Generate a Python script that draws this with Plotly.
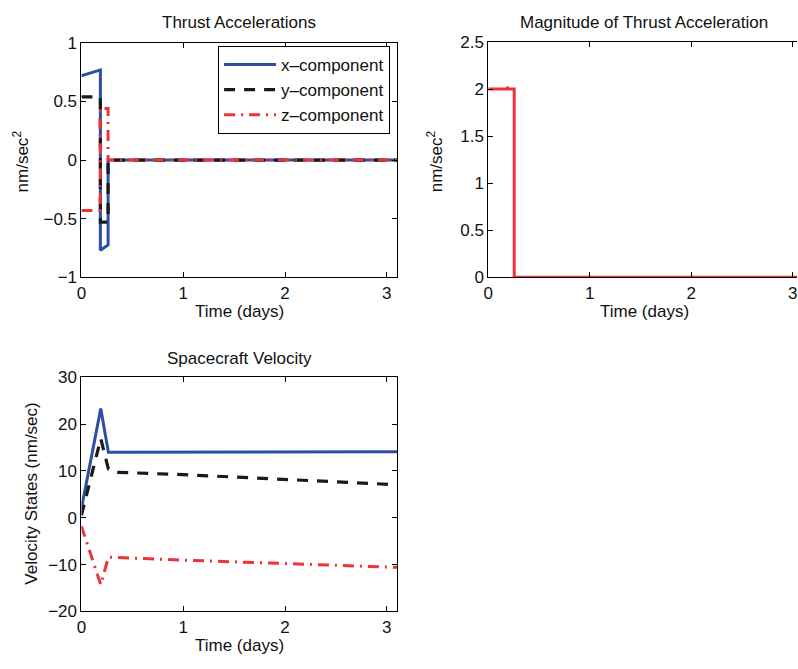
import plotly.graph_objects as go

W, H = 798, 669

# ---- data ----
t_acc = [0, 0.186, 0.186, 0.262, 0.262, 3.1]
acc_x = [0.72, 0.77, -0.77, -0.725, 0, 0]
acc_y = [0.54, 0.54, -0.53, -0.53, 0, 0]
acc_z = [-0.43, -0.43, 0.44, 0.44, 0, 0]

t_mag = [0, 0.18, 0.19, 0.2, 0.255, 0.255, 3.1]
mag = [2.0, 2.0, 2.012, 2.0, 2.0, 0.0, 0.0]

t_vel = [0, 0.19, 0.265, 0.35, 1, 1.5, 2, 2.5, 3, 3.1]
vel_x = [2.0, 23.3, 14.0, 14.0, 14.0, 14.05, 14.05, 14.1, 14.1, 14.1]
vel_y = [0.5, 16.9, 10.4, 9.7, 9.2, 8.7, 8.1, 7.6, 7.15, 7.05]
vel_z = [-1.8, -14.3, -8.4, -8.5, -9.05, -9.4, -9.75, -10.15, -10.5, -10.6]

names = ["x\u2013component", "y\u2013component", "z\u2013component"]
BLUE = "#2c4fa3"
BLACK = "#1a1a1a"
RED = "#ec3335"
styles = [dict(color=BLUE, width=3, dash="solid"),
          dict(color=BLACK, width=3.2, dash="11px,9px"),
          dict(color=RED, width=3, dash="11px,6px,2px,6px")]

FONT = "Liberation Sans, Arial, Helvetica, sans-serif"
FS = 17


def px(x):
    return x / W


def py(y):
    return 1 - y / H


fig = go.Figure()

for vals, nm, st in zip([acc_x, acc_y, acc_z], names, styles):
    fig.add_trace(go.Scatter(x=t_acc, y=vals, mode="lines", name=nm, line=st,
                             xaxis="x", yaxis="y", showlegend=True))

fig.add_trace(go.Scatter(x=t_mag, y=mag, mode="lines", line=dict(color=RED, width=3),
                         xaxis="x2", yaxis="y2", showlegend=False))

for vals, nm, st in zip([vel_x, vel_y, vel_z], names, styles):
    fig.add_trace(go.Scatter(x=t_vel, y=vals, mode="lines", name=nm, line=st,
                             xaxis="x3", yaxis="y3", showlegend=False))

axis_common = dict(showline=True, linecolor="black", linewidth=1, mirror="ticks",
                   ticks="inside", ticklen=5, tickcolor="black", showgrid=False,
                   zeroline=False, tickfont=dict(family=FONT, size=FS, color="#111"))

right_px = 804.0
x2_max = 3.1 * (W - 487) / (right_px - 487)

fig.update_layout(
    width=W, height=H,
    margin=dict(l=0, r=0, t=0, b=0),
    paper_bgcolor="white", plot_bgcolor="white",
    font=dict(family=FONT, size=FS, color="#111"),
    xaxis=dict(domain=[px(77), px(395)], range=[0, 3.1], tickvals=[0, 1, 2, 3], anchor="y", **axis_common),
    yaxis=dict(domain=[py(276), py(35)], range=[-1, 1], tickvals=[-1, -0.5, 0, 0.5, 1], anchor="x", **axis_common),
    xaxis2=dict(domain=[px(487), 1.0], range=[0, x2_max], tickvals=[0, 1, 2, 3], anchor="y2",
                ticklabeloverflow="allow", **axis_common),
    yaxis2=dict(domain=[py(276), py(34)], range=[0, 2.5], tickvals=[0, 0.5, 1, 1.5, 2, 2.5], anchor="x2",
                **{**axis_common, "mirror": False}),
    xaxis3=dict(domain=[px(77), px(395)], range=[0, 3.1], tickvals=[0, 1, 2, 3], anchor="y3", **axis_common),
    yaxis3=dict(domain=[py(620), py(379)], range=[-20, 30], tickvals=[-20, -10, 0, 10, 20, 30], anchor="x3", **axis_common),
    legend=dict(x=px(388), y=py(38), xanchor="right", yanchor="top",
                bordercolor="black", borderwidth=1, bgcolor="white", itemwidth=52,
                tracegroupgap=0,
                font=dict(family=FONT, size=FS, color="#111")),
)

ann = []


def add_text(text, x, y, angle=0, size=FS):
    ann.append(dict(text=text, x=px(x), y=py(y), xref="paper", yref="paper",
                    showarrow=False, xanchor="center", yanchor="middle",
                    textangle=angle, font=dict(family=FONT, size=size, color="#111")))


add_text("Thrust Accelerations", 236, 14)
add_text("Magnitude of Thrust Acceleration", 644, 14)
add_text("Spacecraft Velocity", 236, 360)
add_text("Time (days)", 236, 311)
add_text("Time (days)", 644, 311)
add_text("Time (days)", 236, 655)
add_text("nm/sec<sup>2</sup>", 16, 157, angle=-90)
add_text("nm/sec<sup>2</sup>", 433, 157, angle=-90)
add_text("Velocity States (nm/sec)", 27, 499, angle=-90)

fig.update_layout(annotations=ann)

fig.write_html("out.html")
